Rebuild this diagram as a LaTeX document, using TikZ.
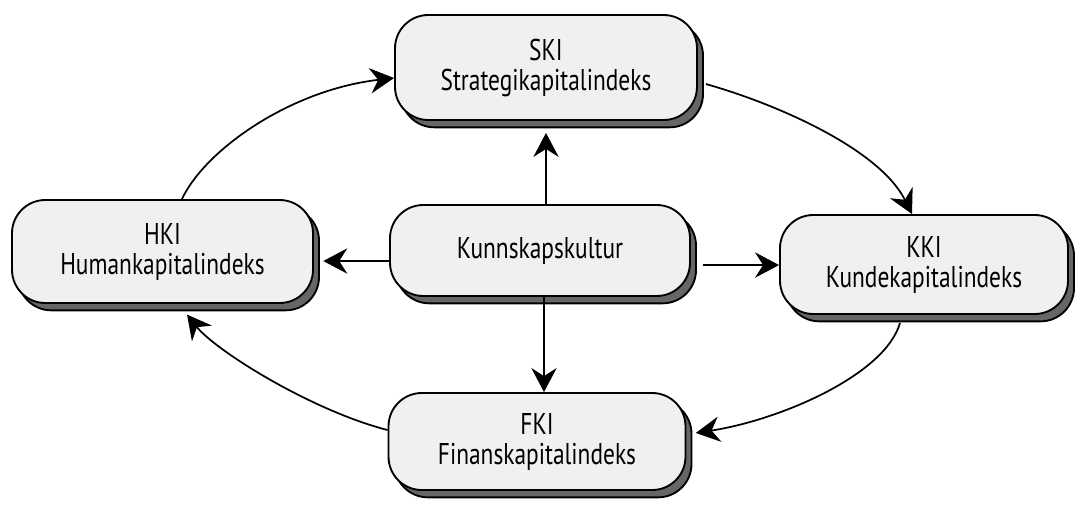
\documentclass[tikz,border=0pt]{standalone}
\usepackage{fontspec}
\setmainfont{PT Sans}[FakeStretch=0.78]
\usetikzlibrary{arrows.meta,shadows}
\begin{document}
\begin{tikzpicture}[x=0.75pt,y=-0.75pt,
  box/.style={draw=black, line width=1.4pt, rounded corners=25pt, fill=black!6,
    align=center, inner sep=0pt, font=\fontsize{22.5}{22.5}\selectfont,
    drop shadow={shadow xshift=4.5pt, shadow yshift=-5.5pt, fill=black!60, draw=black, opacity=1}},
  arr/.style={line width=1.3pt, -{Stealth[length=18pt,width=19pt,inset=6pt]}}]
\useasboundingbox (0,0) rectangle (1079,508);

\node[box, minimum width=226.5pt, minimum height=78.75pt] (s) at (546,67.5) {SKI\\Strategikapitalindeks};
\node[box, minimum width=225.75pt, minimum height=77.25pt] (h) at (162.5,251.5) {HKI\\Humankapitalindeks};
\node[box, minimum width=225pt, minimum height=68.25pt] (k) at (540,250.5) {Kunnskapskultur};
\node[box, minimum width=216pt, minimum height=74.25pt] (kk) at (924,264.5) {KKI\\Kundekapitalindeks};
\node[box, minimum width=222.75pt, minimum height=72.75pt] (f) at (537,441.5) {FKI\\Finanskapitalindeks};

% straight arrows from the centre
\draw[arr] (k.north -| s.south) -- ([yshift=-9pt]s.south);
\draw[arr] ([xshift=3pt]k.south) -- ([xshift=3pt]k.south |- f.north);
\draw[arr] ([yshift=-7.9pt]k.west) -- ([xshift=7pt,yshift=-7.9pt]h.east |- k.west);
\draw[arr] ([xshift=9pt,yshift=-10.9pt]k.east) -- ([yshift=-10.9pt]kk.west |- k.east);

% cycle
\draw[arr] ([xshift=14.6pt]h.north) .. controls (205,150) and (290,90) .. (s.west |- 0,78);
\draw[arr] ([xshift=6pt,yshift=-12.4pt]s.east) .. controls (780,105) and (880,150) .. ([xshift=-9pt]kk.north);
\draw[arr] ([xshift=-18pt,yshift=-6pt]kk.south) .. controls (885,375) and (780,420) .. ([xshift=7pt,yshift=6.4pt]f.east);
\draw[arr] ([yshift=8.6pt]f.west) .. controls (310,410) and (215,350) .. ([xshift=18.4pt,yshift=-8pt]h.south);
\end{tikzpicture}
\end{document}
